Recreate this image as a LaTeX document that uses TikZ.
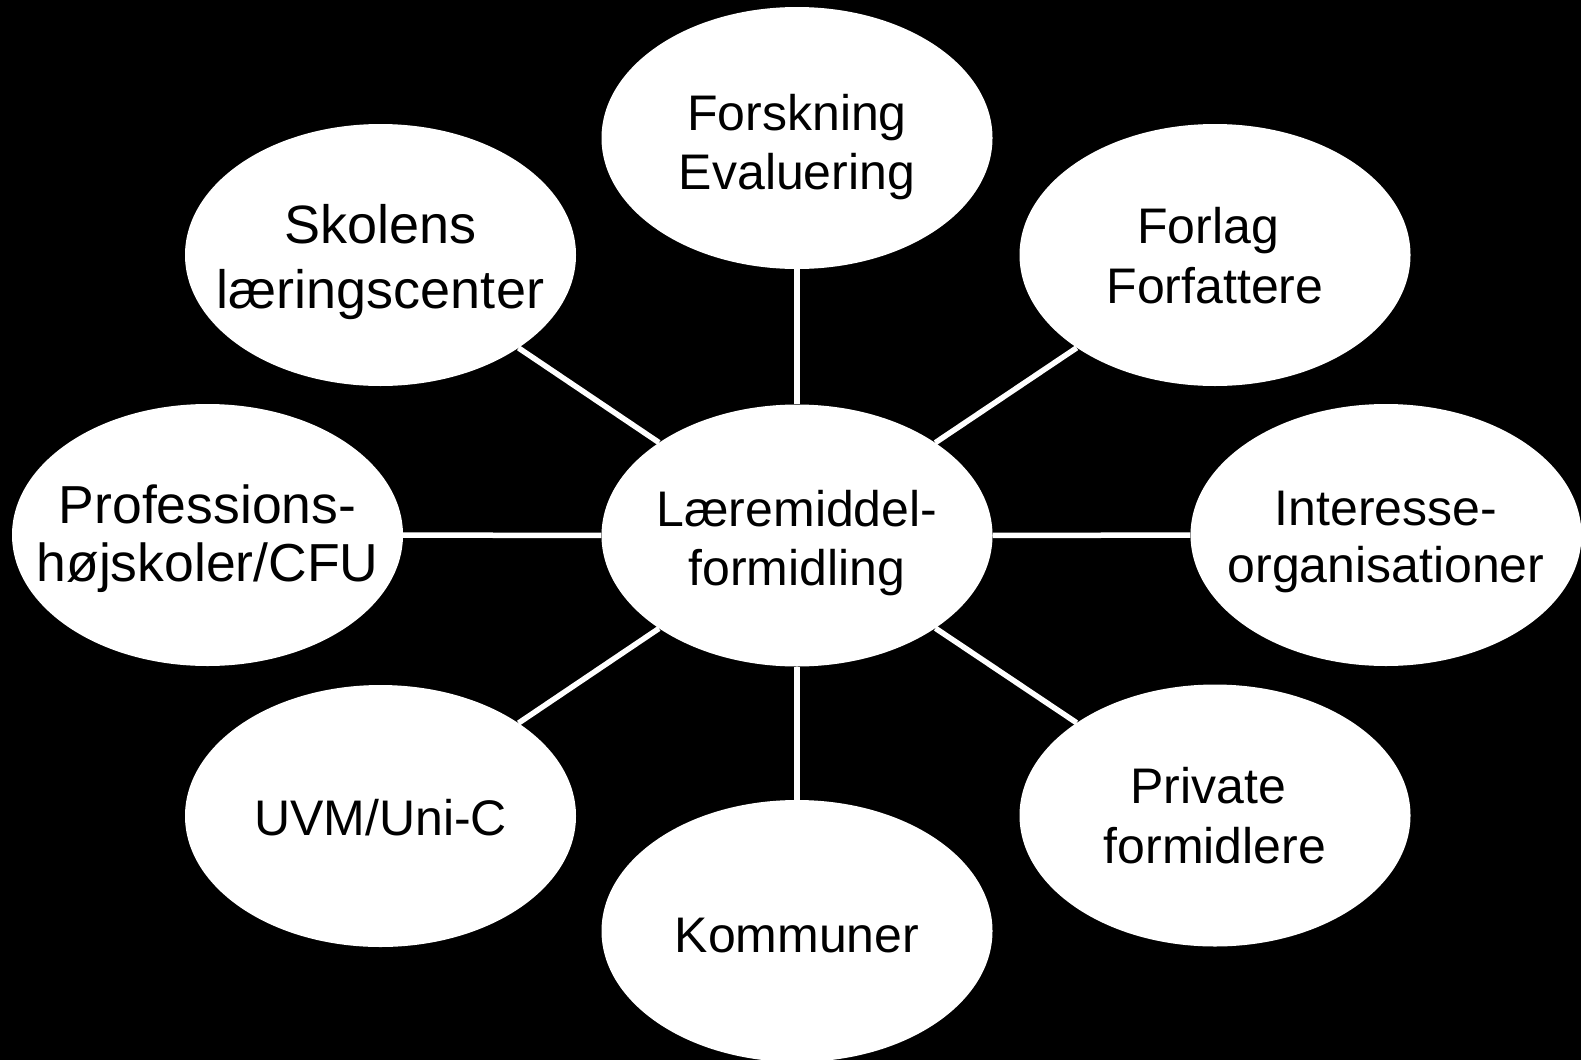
\documentclass[tikz,border=0pt]{standalone}
\usepackage{fontspec}
\setmainfont{Liberation Sans}
\usetikzlibrary{shapes.geometric}
% #1: offset of last baseline below node centre, #2: line distance
\newcommand{\twol}[4]{\raisebox{0pt}[\dimexpr #1pt*2+4pt\relax][4pt]{\makebox[0pt][c]{\vbox{\baselineskip=#2pt\lineskiplimit=-100pt\halign{\hfil##\hfil\cr #3\cr #4\cr}}}}}
\newcommand{\onel}[2]{\raisebox{0pt}[\dimexpr #1pt*2+4pt\relax][4pt]{\makebox[0pt][c]{#2}}}
\newcommand{\tsp}{\hspace{13.9pt}}
\tikzset{
  bubble/.style={ellipse, fill=white, minimum width=391pt, minimum height=262pt,
    inner sep=0pt, text=black, font=\fontsize{50}{59}\selectfont},
  conn/.style={draw=white, line width=5.5pt}
}
\begin{document}
\begin{tikzpicture}[x=1pt,y=-1pt]
\fill[black] (0,0) rectangle (1581,1060);
\useasboundingbox (0,0) rectangle (1581,1060);
\node[bubble] (C)  at (797,535.5)  {\twol{49.5}{59}{Læremiddel-}{formidling}};
\node[bubble] (T)  at (797,138)    {\twol{51}{59}{Forskning}{Evaluering}};
\node[bubble] (B)  at (797,931)    {\onel{21}{Kommuner}};
\node[bubble, font=\fontsize{53.5}{58.4}\selectfont] (L) at (207.5,535)
  {\twol{46.7}{58.4}{Professions-}{højskoler/CFU}};
\node[bubble] (R)  at (1386,535)   {\twol{47.7}{57.7}{Interesse-}{organisationer}};
\node[bubble, font=\fontsize{54}{65}\selectfont] (TL) at (380.5,255)
  {\twol{53.3}{65}{Skolens}{læringscenter}};
\node[bubble] (TR) at (1215,255)   {\twol{48.3}{60}{Forlag\tsp}{Forfattere}};
\node[bubble] (BL) at (380.5,816)  {\onel{19}{UVM/Uni-C}};
\node[bubble] (BR) at (1215,815.5) {\twol{47.8}{60}{Private\tsp}{formidlere}};
\foreach \n in {T,B,L,R,TL,TR,BL,BR}{
  \draw[conn] (C) -- (\n);
}
\end{tikzpicture}
\end{document}
